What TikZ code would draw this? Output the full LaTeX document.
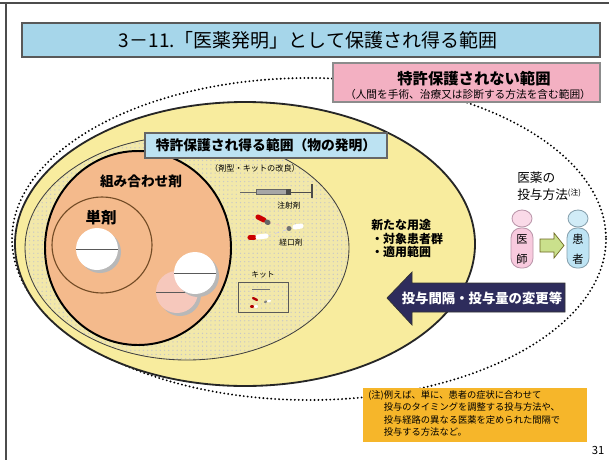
\documentclass[tikz,border=0pt]{standalone}
\usepackage{fontspec}
\setmainfont{Noto Sans CJK JP}
\usetikzlibrary{shapes,arrows,positioning,calc,patterns}
\definecolor{titleblue}{RGB}{166,214,234}
\definecolor{labelblue}{RGB}{188,226,242}
\definecolor{ngpink}{RGB}{243,176,194}
\definecolor{rangeyellow}{RGB}{248,236,158}
\definecolor{dotyellow}{RGB}{242,232,170}
\definecolor{comboorange}{RGB}{244,186,140}
\definecolor{tabletpink}{RGB}{246,200,188}
\definecolor{arrownavy}{RGB}{46,44,92}
\definecolor{noteorange}{RGB}{246,182,42}
\definecolor{doctorpink}{RGB}{248,202,222}
\definecolor{patientblue}{RGB}{190,228,244}
\definecolor{flowgreen}{RGB}{202,224,140}

\tikzset{
  scopeline/.style={line width=1.5pt, dash pattern=on 0pt off 2.8pt, line cap=round},
  rangeline/.style={line width=1.3pt, draw=black!85},
  capsule/.style={line width=3.6pt, line cap=round},
  tinycapsule/.style={line width=1.6pt, line cap=round}
}

\begin{document}
\begin{tikzpicture}[x=0.025cm,y=-0.025cm, every node/.style={inner sep=0pt}]
\useasboundingbox (0,0) rectangle (609,460);
\fill[white] (0,0) rectangle (609,460);

% ---- Page frame ----
\draw[black!70, line width=1.2pt] (0,3) -- (609,3);
\draw[black!70, line width=1pt] (6,3) -- (6,460);

% ---- Title bar ----
\draw[fill=titleblue, draw=black!65, line width=2pt] (22,23) rectangle (600,57);
\node[font=\fontsize{13.5}{16}\selectfont] (title) at (308,40)
  {3－11.「医薬発明」として保護され得る範囲};

% ---- Outer scope (dotted) ----
\draw[scopeline] (309,239) ellipse [x radius=297, y radius=161];

% ---- Protectable range ----
\draw[fill=rangeyellow, rangeline] (245,244) ellipse [x radius=230, y radius=142];

% ---- Product inventions (stippled) ----
\path[fill=dotyellow, postaction={pattern=dots, pattern color=black!22}]
  (187,248) ellipse [x radius=162, y radius=112];
\draw[black!75, line width=0.6pt] (187,248) ellipse [x radius=162, y radius=112];

% ---- Combination drugs / single drug ----
\draw[fill=comboorange, line width=1.4pt] (138,248) ellipse [x radius=93, y radius=97];
\draw[draw=brown!60!black, line width=0.8pt] (102,245) ellipse [x radius=50, y radius=48];

% ---- Tablets ----
\foreach \cx/\cy/\col in {97/249/white, 177/292/tabletpink, 195/273/white} {
  \fill[black!28] (\cx+3,\cy+3) circle [radius=21];
  \fill[\col] (\cx,\cy) circle [radius=21];
  \draw[black!65, line width=0.6pt] (\cx-21,\cy) -- (\cx+21,\cy);
}

\node[font=\bfseries\fontsize{9.7}{11}\selectfont] (combolabel) at (141,181) {組み合わせ剤};
\node[font=\bfseries\fontsize{11}{13}\selectfont] (singlelabel) at (101,218) {単剤};

% ---- Label of product range ----
\draw[fill=labelblue, draw=black!60, line width=0.8pt] (145,133) rectangle (387,158);
\node[font=\bfseries\fontsize{9.8}{12}\selectfont] (physlabel) at (266,145.5)
  {特許保護され得る範囲（物の発明）};

\node[font=\fontsize{5.8}{7}\selectfont] (formlabel) at (255,168) {（剤型・キットの改良）};

% ---- Syringe ----
\draw[black!60, line width=0.5pt] (240,192) -- (256,192);
\draw[fill=black!35, draw=black!60, line width=0.4pt] (256,189.5) rectangle (290,194.5);
\fill[black!70] (286,189) rectangle (291,195);
\draw[black!70, line width=0.6pt] (291,192) -- (312,192);
\draw[black!70, line width=0.8pt] (312,184) -- (312,198);
\node[font=\fontsize{5.5}{6}\selectfont] (injlabel) at (289,206) {注射剤};

% ---- Oral drugs ----
\draw[red!25, dashed, line width=0.3pt] (268,222) -- (289,228);
\draw[blue!25, dashed, line width=0.3pt] (267,236) -- (289,229);
\draw[capsule, red!80!black] (258,217) -- (264,220);
\draw[capsule, black!60] (267,222) -- (268,222.5);
\draw[capsule, red!80!black] (250,237.5) -- (254,237.5);
\draw[capsule, white] (258,237) -- (266,236);
\fill[black!55] (289,228.5) circle [radius=2.5];
\draw[capsule, white] (295,227) -- (301,226);
\node[font=\fontsize{5.5}{6}\selectfont] (orallabel) at (291,243) {経口剤};

% ---- Kit ----
\node[font=\fontsize{5.5}{6}\selectfont] (kitlabel) at (263,275) {キット};
\draw[black!65, line width=0.6pt] (238,282) rectangle (288,312);
\draw[black!55, line width=0.4pt] (252,289.5) -- (270,289.5);
\draw[tinycapsule, red!70!black] (253,298) -- (257,300);
\draw[tinycapsule, red!70!black] (251,306.5) -- (253,306.5);
\draw[tinycapsule, white] (255,306.5) -- (257,306.5);
\draw[tinycapsule, black!50] (265,302) -- (266,301.5);
\draw[tinycapsule, white] (268,301.2) -- (270,300.8);

% ---- New uses ----
\node[anchor=west, align=left, font=\bfseries\fontsize{8.5}{9.6}\selectfont] (newuse) at (371,238.5)
  {新たな用途\\ ・対象患者群\\ ・適用範囲};

% ---- Out of scope ----
\draw[fill=ngpink, draw=black!45, line width=0.8pt] (333,63) rectangle (600,102);
\node[font=\bfseries\fontsize{10.9}{12}\selectfont] (nglabel) at (474,79) {特許保護されない範囲};
\node[font=\fontsize{7.6}{9}\selectfont] (ngnote) at (468,94)
  {（人間を手術、治療又は診断する方法を含む範囲）};

% ---- Administration method ----
\node[anchor=west, align=left, font=\fontsize{9}{12}\selectfont] (methodlabel) at (517,186.5)
  {医薬の\\投与方法\raisebox{3pt}{\fontsize{5.5}{6}\selectfont(注)}};

\draw[fill=doctorpink!70!white, draw=magenta!40!black!50, line width=0.6pt] (522,218.5) ellipse [x radius=10, y radius=8.5];
\draw[fill=doctorpink, draw=magenta!40!black!50, line width=0.6pt, rounded corners=7pt] (511,228) rectangle (533,268);
\node[align=center, font=\fontsize{8}{14}\selectfont] (doctor) at (522,249.5) {医\\師};

\draw[fill=patientblue!70!white, draw=cyan!40!black!60, line width=0.6pt] (578,218.5) ellipse [x radius=10, y radius=8.5];
\draw[fill=patientblue, draw=cyan!40!black!60, line width=0.6pt, rounded corners=7pt] (567,228) rectangle (589,268);
\node[align=center, font=\fontsize{8}{14}\selectfont] (patient) at (578,249.5) {患\\者};

\draw[fill=flowgreen, draw=olive!70!black, line width=0.5pt]
  (540,239) -- (554,239) -- (554,233) -- (564,245.5) -- (554,258) -- (554,252) -- (540,252) -- cycle;

% ---- Changes of interval / dose ----
\draw[fill=arrownavy, draw=black!80, line width=0.5pt]
  (387,298) -- (412,272) -- (412,283) -- (565,283) -- (565,312) -- (412,312) -- (412,325) -- cycle;
\node[text=white, font=\bfseries\fontsize{9.5}{11}\selectfont] (doseshift) at (482,298)
  {投与間隔・投与量の変更等};

% ---- Note ----
\fill[noteorange] (363,388) rectangle (587,442);
\node[anchor=north west, align=left, font=\fontsize{6.6}{8.9}\selectfont] (notetext) at (368,390)
  {(注)例えば、単に、患者の症状に合わせて\\
   \phantom{(注)}投与のタイミングを調整する投与方法や、\\
   \phantom{(注)}投与経路の異なる医薬を定められた間隔で\\
   \phantom{(注)}投与する方法など。};

\node[font=\fontsize{8}{9}\selectfont] (pagenum) at (598,450) {31};

\end{tikzpicture}
\end{document}
